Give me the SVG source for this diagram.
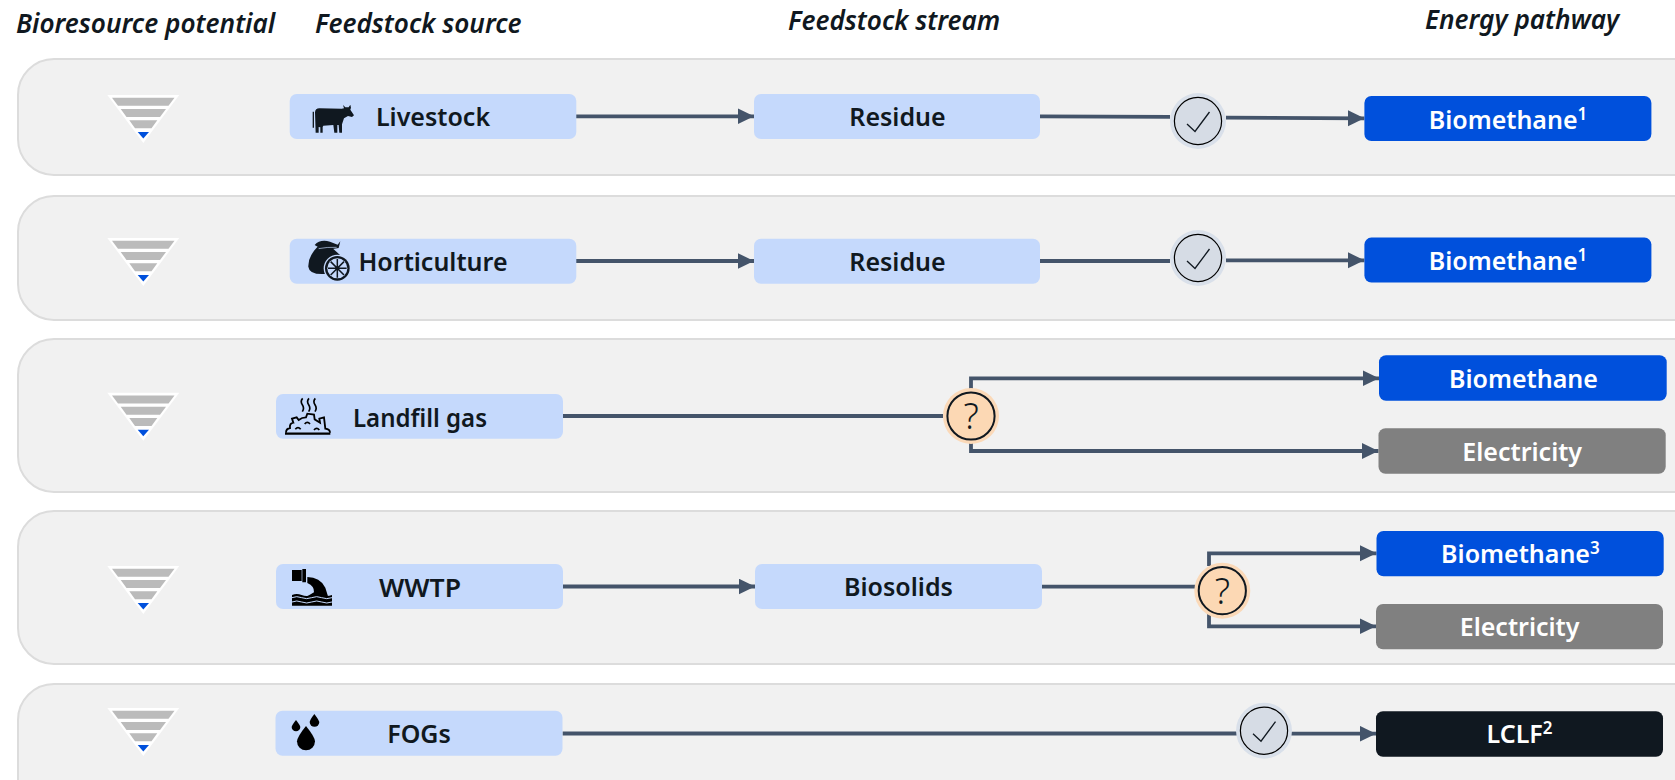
<svg xmlns="http://www.w3.org/2000/svg" xmlns:xlink="http://www.w3.org/1999/xlink" width="1675" height="780" viewBox="0 0 1675 780">
<style>
text{font-family:"Noto Sans","Open Sans","Liberation Sans",sans-serif;font-weight:600;text-anchor:middle}
.hd{font-size:26.2px;font-style:italic;fill:#101820;text-anchor:start}
.lb{font-size:25px;fill:#101820}
.wt{font-size:25px;fill:#fff}
.sup{font-size:17px}
.panel{fill:#f1f1f1;stroke:#dcdcdc;stroke-width:2}
.src{fill:#c5d9fc}
.blue{fill:#0050dc}
.grey{fill:#808080}
.dark{fill:#101820}
.conn{fill:none;stroke:#44546a;stroke-width:3.8}
.ico{fill:#101820}
.halo-c{fill:#d9e0ea}
.in-c{fill:#d6dce5;stroke:#000;stroke-width:1.2}
.halo-q{fill:#fbd9b8}
.in-q{fill:#fcd8b4;stroke:#101820;stroke-width:2}
.tick{fill:none;stroke:#101820;stroke-width:1.3}
.q{font-family:"Noto Sans",sans-serif;font-size:36px;font-weight:300;fill:#101820}
</style>
<defs>
<marker id="ah" markerUnits="userSpaceOnUse" markerWidth="17" markerHeight="17" refX="16.5" refY="8" orient="auto"><path d="M0 0L16.5 8L0 16Z" fill="#44546a"/></marker>
<g id="funnel">
<path d="M107.3 95H179.3L143.3 143Z" fill="#fff"/>
<path d="M112 97.7H174.5L168.5 105.7H118Z M120.7 109H166L160 117H126.5Z M129.3 120.3H157.3L151.5 128.3H135Z" fill="#bbb"/>
<path d="M137.7 132H149L143.3 138.5Z" fill="#0050dc"/>
</g>
<g id="chk">
<circle r="28" class="halo-c"/><circle r="23.6" class="in-c"/>
<path d="M-11 3L-3 10.5L11.5 -9" class="tick"/>
</g>
<g id="qst">
<circle r="28" class="halo-q"/><circle r="23.6" class="in-q"/>
<text y="13.3" class="q">?</text>
</g>
</defs>
<g id="headers">
<text x="16" y="33" class="hd">Bioresource potential</text>
<text x="315" y="33" class="hd">Feedstock source</text>
<text x="788" y="30" class="hd">Feedstock stream</text>
<text x="1425" y="29" class="hd">Energy pathway</text>
</g>
<g id="panels">
<rect x="18" y="59" width="1700" height="116" rx="36" class="panel"/>
<rect x="18" y="196" width="1700" height="124" rx="36" class="panel"/>
<rect x="18" y="339" width="1700" height="153" rx="36" class="panel"/>
<rect x="18" y="511" width="1700" height="153" rx="36" class="panel"/>
<rect x="18" y="684" width="1700" height="153" rx="36" class="panel"/>
</g>
<g id="potential">
<use xlink:href="#funnel" href="#funnel"/>
<use xlink:href="#funnel" href="#funnel" y="143"/>
<use xlink:href="#funnel" href="#funnel" y="297.7"/>
<use xlink:href="#funnel" href="#funnel" y="471"/>
<use xlink:href="#funnel" href="#funnel" y="613"/>
</g>
<g id="connectors">
<path d="M576 116.3H754" class="conn" marker-end="url(#ah)"/>
<path d="M1040 116.3L1170 116.8" class="conn"/>
<path d="M1226 117.7L1364.4 118.3" class="conn" marker-end="url(#ah)"/>
<path d="M576 261H754" class="conn" marker-end="url(#ah)"/>
<path d="M1040 261H1170" class="conn"/>
<path d="M1226 260.3H1364.4" class="conn" marker-end="url(#ah)"/>
<path d="M563 416H943" class="conn"/>
<path d="M971 392V378.3H1379" class="conn" marker-end="url(#ah)"/>
<path d="M971 440V451H1378.5" class="conn" marker-end="url(#ah)"/>
<path d="M563 586.5H755" class="conn" marker-end="url(#ah)"/>
<path d="M1042 586.7H1195" class="conn"/>
<path d="M1209 566V553.3H1376.5" class="conn" marker-end="url(#ah)"/>
<path d="M1209 612V626.3H1376" class="conn" marker-end="url(#ah)"/>
<path d="M562.5 733.5H1237" class="conn"/>
<path d="M1291 733.7H1376" class="conn" marker-end="url(#ah)"/>
</g>
<g id="gate1"><use xlink:href="#chk" href="#chk" x="1198" y="121"/></g>
<g id="gate2"><use xlink:href="#chk" href="#chk" x="1198" y="258"/></g>
<g id="gate3"><use xlink:href="#qst" href="#qst" x="971" y="416"/></g>
<g id="gate4"><use xlink:href="#qst" href="#qst" x="1222.3" y="590.7"/></g>
<g id="gate5"><use xlink:href="#chk" href="#chk" x="1264" y="730.7"/></g>
<g id="src-livestock">
<rect x="289.7" y="94" width="286.6" height="45" rx="7" class="src"/>
<g transform="translate(270 85) scale(.3333)">
<path class="ico" d="M135 82Q136 70 148 70L215 71L222 70L219 60L226 67L236 67L241 59L243 68L241 74L252 91L246 96L234 93L222 100L216 118V143H208L206 120H202V143H193L190 120L160 122L158 126V143H151V127L146 126V143H137Z"/>
<path d="M130 80V128" stroke="#101820" stroke-width="4" fill="none"/>
</g>
<text x="433" y="126.3" class="lb">Livestock</text>
</g>
<g id="src-horticulture">
<rect x="289.7" y="238.7" width="286.6" height="45" rx="7" class="src"/>
<g transform="translate(270 85) scale(.3333)">
<path class="ico" d="M142 486Q114 514 115 545Q118 570 165 567L210 510L186 488Z"/>
<path class="ico" d="M134 480Q150 462 180 470L203 479L211 469L206 489Q170 496 150 490Z"/>
<path d="M146 491Q170 486 200 487" stroke="#c5d9fc" stroke-width="2" fill="none"/>
<circle cx="202" cy="550" r="41" fill="#c5d9fc"/>
<circle cx="202" cy="550" r="37" class="ico"/>
<circle cx="202" cy="550" r="30" fill="#c5d9fc"/>
<path d="M202 522V578M174 550H230M182 530L222 570M222 530L182 570" stroke="#101820" stroke-width="4.5" fill="none"/>
<circle cx="202" cy="550" r="6" class="ico"/>
</g>
<text x="433" y="271" class="lb">Horticulture</text>
</g>
<g id="src-landfill">
<rect x="276" y="394" width="287" height="44.7" rx="7" class="src"/>
<g transform="translate(270 380) scale(.3333)" fill="none" stroke="#000">
<path d="M98 55Q90 64 97 74T97 95M117 55Q109 64 116 74T116 95M136 55Q128 64 135 74T135 95" stroke-width="5"/>
<path d="M45 161H181" stroke-width="7"/>
<path d="M48 158Q48 146 60 144Q58 130 70 128L66 116L80 112L86 120Q96 112 108 112L112 101L132 104L134 118L150 128L148 116L162 112L166 146Q180 148 180 158" stroke-width="5.5"/>
<path d="M76 148Q84 138 92 148M104 132Q112 122 120 132M132 150Q140 140 148 150" stroke-width="5"/>
</g>
<text x="420" y="426.7" class="lb" textLength="134" lengthAdjust="spacingAndGlyphs">Landfill gas</text>
</g>
<g id="src-wwtp">
<rect x="276" y="564" width="287" height="45" rx="7" class="src"/>
<g transform="translate(270 555) scale(.3333)">
<path fill="#000" d="M66 45H95V78H66ZM97 42H108V82H97Z"/>
<path fill="#000" d="M112 66Q150 66 166 98L174 124H112L132 112Q134 94 112 84Z"/>
<path fill="#000" d="M66 120Q80 114 95 120T125 120T155 120T186 120V152H66Z"/>
<path d="M66 128Q80 122 95 128T125 128T155 128T186 128M66 141Q80 135 95 141T125 141T155 141T186 141" stroke="#c5d9fc" stroke-width="3" fill="none"/>
</g>
<text x="420" y="596.5" class="lb" textLength="82" lengthAdjust="spacingAndGlyphs">WWTP</text>
</g>
<g id="src-fogs">
<rect x="275.5" y="710.7" width="287" height="45" rx="7" class="src"/>
<g transform="translate(270 555) scale(.3333)" fill="#000">
<path d="M78 495Q66 510 65 516A13 13 0 0 0 91 516Q90 510 78 495Z"/>
<path d="M133 477Q120 494 119 501A14.5 14.5 0 0 0 148 501Q146 494 133 477Z"/>
<path d="M108 513Q82 545 81 559A27 27 0 0 0 135 559Q134 545 108 513Z"/>
</g>
<text x="419" y="742.7" class="lb">FOGs</text>
</g>
<g id="str-residue-1"><rect x="754" y="94" width="286" height="45" rx="7" class="src"/><text x="897.5" y="126.3" class="lb">Residue</text></g>
<g id="str-residue-2"><rect x="754" y="238.7" width="286" height="45" rx="7" class="src"/><text x="897.5" y="271" class="lb">Residue</text></g>
<g id="str-biosolids"><rect x="755" y="564" width="287" height="45" rx="7" class="src"/><text x="898.5" y="596" class="lb">Biosolids</text></g>
<g id="end-biomethane-1"><rect x="1364.4" y="96" width="287" height="45" rx="7" class="blue"/><text x="1508" y="128.7" class="wt">Biomethane<tspan class="sup" dy="-9">1</tspan></text></g>
<g id="end-biomethane-2"><rect x="1364.4" y="237.6" width="287" height="45" rx="7" class="blue"/><text x="1508" y="270" class="wt">Biomethane<tspan class="sup" dy="-9">1</tspan></text></g>
<g id="end-biomethane-3"><rect x="1379" y="355.3" width="287.7" height="45.5" rx="7" class="blue"/><text x="1523.4" y="387.7" class="wt">Biomethane</text></g>
<g id="end-electricity-1"><rect x="1378.5" y="428.3" width="287.2" height="45.5" rx="7" class="grey"/><text x="1522.2" y="460.7" class="wt">Electricity</text></g>
<g id="end-biomethane-4"><rect x="1376.5" y="531" width="287.2" height="45.3" rx="7" class="blue"/><text x="1520.4" y="563.3" class="wt">Biomethane<tspan class="sup" dy="-9">3</tspan></text></g>
<g id="end-electricity-2"><rect x="1376" y="604" width="287" height="45.3" rx="7" class="grey"/><text x="1519.6" y="636.3" class="wt">Electricity</text></g>
<g id="end-lclf"><rect x="1376" y="711.3" width="287" height="45.4" rx="7" class="dark"/><text x="1519.5" y="743" class="wt">LCLF<tspan class="sup" dy="-9">2</tspan></text></g>
</svg>
